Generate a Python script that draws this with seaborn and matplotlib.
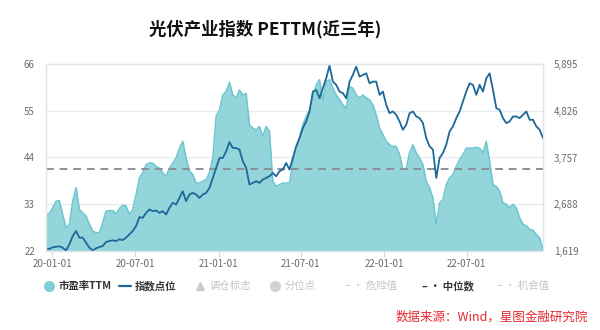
import pandas as pd
import matplotlib
matplotlib.use("Agg")
import matplotlib.pyplot as plt
from matplotlib.lines import Line2D
from matplotlib.ticker import FuncFormatter
import seaborn as sns

# Weekly observations, photovoltaic industry index
start_date = "2019-12-18"
end_date = "2022-12-16"

pe_ttm = [
    30.6, 30.8, 32.2, 33.7, 33.9, 30.6, 27.5, 28.3, 33.7, 36.9,
    31.8, 31.0, 30.2, 28.3, 26.7, 26.3, 26.3, 28.7, 31.4, 31.5,
    31.5, 30.8, 32.0, 32.8, 32.6, 30.6, 31.8, 35.3, 39.2, 40.4,
    42.3, 42.7, 42.7, 41.9, 41.5, 40.4, 39.6, 41.5, 42.7, 43.9,
    46.2, 47.8, 43.9, 40.8, 40.0, 38.0, 38.0, 38.4, 38.8, 40.4,
    43.9, 53.7, 55.2, 58.7, 59.5, 61.7, 58.7, 58.0, 59.9, 58.7,
    59.1, 51.7, 50.9, 50.5, 51.3, 49.0, 51.3, 50.1, 38.4, 37.2,
    37.6, 38.0, 38.0, 38.0, 42.7, 46.2, 48.6, 51.7, 53.7, 55.2,
    58.0, 61.1, 62.3, 57.6, 61.9, 62.3, 60.3, 58.7, 57.6, 56.4,
    55.6, 60.7, 60.3, 58.7, 58.0, 58.7, 58.0, 57.6, 56.4, 54.0,
    50.9, 49.4, 47.8, 47.0, 46.6, 46.6, 44.7, 41.2, 41.5, 45.1,
    47.0, 45.1, 43.9, 42.3, 38.4, 36.9, 34.5, 28.3, 33.3, 34.1,
    37.6, 39.2, 40.0, 41.9, 43.5, 44.7, 46.2, 46.2, 46.2, 46.4,
    46.2, 45.1, 47.8, 43.1, 37.6, 37.2, 36.1, 33.3, 33.0, 32.2,
    33.0, 32.2, 29.8, 28.3, 27.9, 27.1, 26.9, 25.9, 25.1, 22.4,
]

index_points = [
    1680, 1665, 1703, 1718, 1725, 1695, 1630, 1771, 1961, 2075,
    1923, 1923, 1809, 1695, 1634, 1680, 1710, 1733, 1824, 1847,
    1862, 1847, 1885, 1870, 1923, 1999, 2075, 2189, 2394, 2378,
    2492, 2568, 2530, 2545, 2492, 2530, 2454, 2606, 2720, 2682,
    2834, 2986, 2758, 2910, 2948, 2910, 2834, 2910, 2948, 3062,
    3290, 3518, 3746, 3746, 3898, 4110, 3974, 3974, 3936, 3670,
    3518, 3138, 3176, 3214, 3176, 3252, 3290, 3328, 3404, 3328,
    3442, 3480, 3632, 3480, 3746, 4012, 4201, 4429, 4581, 4809,
    5265, 5303, 5113, 5341, 5568, 5857, 5492, 5417, 5265, 5227,
    5113, 5492, 5644, 5834, 5606, 5644, 5682, 5454, 5492, 5492,
    5189, 5265, 4961, 4771, 4809, 4733, 4581, 4391, 4505, 4771,
    4809, 4695, 4657, 4543, 4201, 4012, 3936, 3290, 3746, 3860,
    4050, 4353, 4467, 4657, 4809, 5037, 5265, 5454, 5417, 5189,
    5417, 5265, 5568, 5682, 5303, 4885, 4847, 4657, 4543, 4581,
    4695, 4695, 4657, 4733, 4809, 4619, 4619, 4467, 4391, 4201,
]

pe_median = 41.2
pe_ticks = [22, 33, 44, 55, 66]
index_ticks = [1619, 2688, 3757, 4826, 5895]
x_tick_dates = ["2020-01-01", "2020-07-01", "2021-01-01",
                "2021-07-01", "2022-01-01", "2022-07-01"]

title_text = "光伏产业指数 PETTM(近三年)"
source_text = "数据来源：Wind，星图金融研究院"
legend_labels = ["市盈率TTM", "指数点位", "调仓标志", "分位点",
                 "– · 危险值", "– · 中位数", "– · 机会值"]

# colours
AREA_FILL = "#93d5db"
AREA_EDGE = "#6cc6cf"
INDEX_LINE = "#1d6898"
MEDIAN_GREY = "#8b9098"
GRID = "#e6e9ef"
TICK_TEXT = "#6b6b6b"
FADED = "#c4c4c4"

sns.set_theme(style="white")
plt.rcParams["font.family"] = ["Noto Sans CJK SC", "DejaVu Sans"]
plt.rcParams["axes.unicode_minus"] = False

dates = pd.date_range(start_date, end_date, periods=len(pe_ttm))
df = pd.DataFrame({"date": dates, "pe": pe_ttm, "index": index_points})

fig = plt.figure(figsize=(6, 3.3), dpi=100)
fig.patch.set_facecolor("white")
ax = fig.add_axes([0.0767, 0.2394, 0.8283, 0.5667])

# PE TTM as a filled area on the left axis
ax.fill_between(df["date"], df["pe"], pe_ticks[0], color=AREA_FILL, lw=0, zorder=2)
sns.lineplot(data=df, x="date", y="pe", ax=ax, color=AREA_EDGE, lw=1.1, zorder=3)
ax.axhline(pe_median, color=MEDIAN_GREY, lw=1.4, ls=(0, (4, 3)), zorder=4)

ax.set_ylim(pe_ticks[0], pe_ticks[-1])
ax.set_yticks(pe_ticks)
ax.set_xlim(dates[0], dates[-1])
ax.set_xticks(pd.to_datetime(x_tick_dates))
ax.xaxis.set_major_formatter(matplotlib.dates.DateFormatter("%y-%m-%d"))
ax.grid(axis="y", color=GRID, lw=0.9, zorder=0)
ax.grid(axis="x", visible=False)
ax.set_xlabel("")
ax.set_ylabel("")
ax.tick_params(axis="y", length=0, pad=8, labelsize=7, labelcolor=TICK_TEXT)
ax.tick_params(axis="x", length=4, width=0.8, color="#d5d9e1", pad=2,
               labelsize=7, labelcolor=TICK_TEXT, direction="out", bottom=True)
for s in ax.spines.values():
    s.set_color("#e1e5ec")
    s.set_linewidth(0.9)

# index level on the right axis
ax2 = ax.twinx()
sns.lineplot(data=df, x="date", y="index", ax=ax2, color=INDEX_LINE, lw=1.3)
ax2.set_ylim(index_ticks[0], index_ticks[-1])
ax2.set_yticks(index_ticks)
ax2.yaxis.set_major_formatter(FuncFormatter(lambda v, p: f"{v:,.0f}"))
ax2.set_xlim(dates[0], dates[-1])
ax2.set_xlabel("")
ax2.set_ylabel("")
ax2.grid(False)
ax2.tick_params(axis="y", length=0, pad=8, labelsize=7, labelcolor=TICK_TEXT)
for s in ax2.spines.values():
    s.set_color("#e1e5ec")
    s.set_linewidth(0.9)

fig.text(0.4417, 0.912, title_text, ha="center", va="center",
         fontsize=12.5, fontweight="bold", color="#111111")

# legend row
ly = 0.133
fig.add_artist(Line2D([0.0817], [ly], marker="o", ms=7, color="#7fcfd7",
                      lw=0, transform=fig.transFigure))
fig.text(0.097, ly, legend_labels[0], fontsize=7.5, fontweight="bold",
         color="#333333", va="center")
fig.add_artist(Line2D([0.198, 0.218], [ly, ly], color=INDEX_LINE, lw=1.6,
                      transform=fig.transFigure))
fig.text(0.225, ly, legend_labels[1], fontsize=7.5, fontweight="bold",
         color="#333333", va="center")
fig.add_artist(Line2D([0.334], [ly], marker="^", ms=6, color="#cccccc",
                      lw=0, transform=fig.transFigure))
fig.text(0.35, ly, legend_labels[2], fontsize=7.5, color=FADED, va="center")
fig.add_artist(Line2D([0.459], [ly], marker="o", ms=7, color="#d2d2d2",
                      lw=0, transform=fig.transFigure))
fig.text(0.475, ly, legend_labels[3], fontsize=7.5, color=FADED, va="center")
fig.text(0.575, ly, legend_labels[4], fontsize=7.5, color=FADED, va="center")
fig.text(0.703, ly, legend_labels[5], fontsize=7.5, fontweight="bold",
         color="#333333", va="center")
fig.text(0.828, ly, legend_labels[6], fontsize=7.5, color=FADED, va="center")

fig.text(0.98, 0.04, source_text, ha="right", va="center", fontsize=9,
         style="italic", color="#e8262d")

fig.savefig("out.png", dpi=100, facecolor="white")
